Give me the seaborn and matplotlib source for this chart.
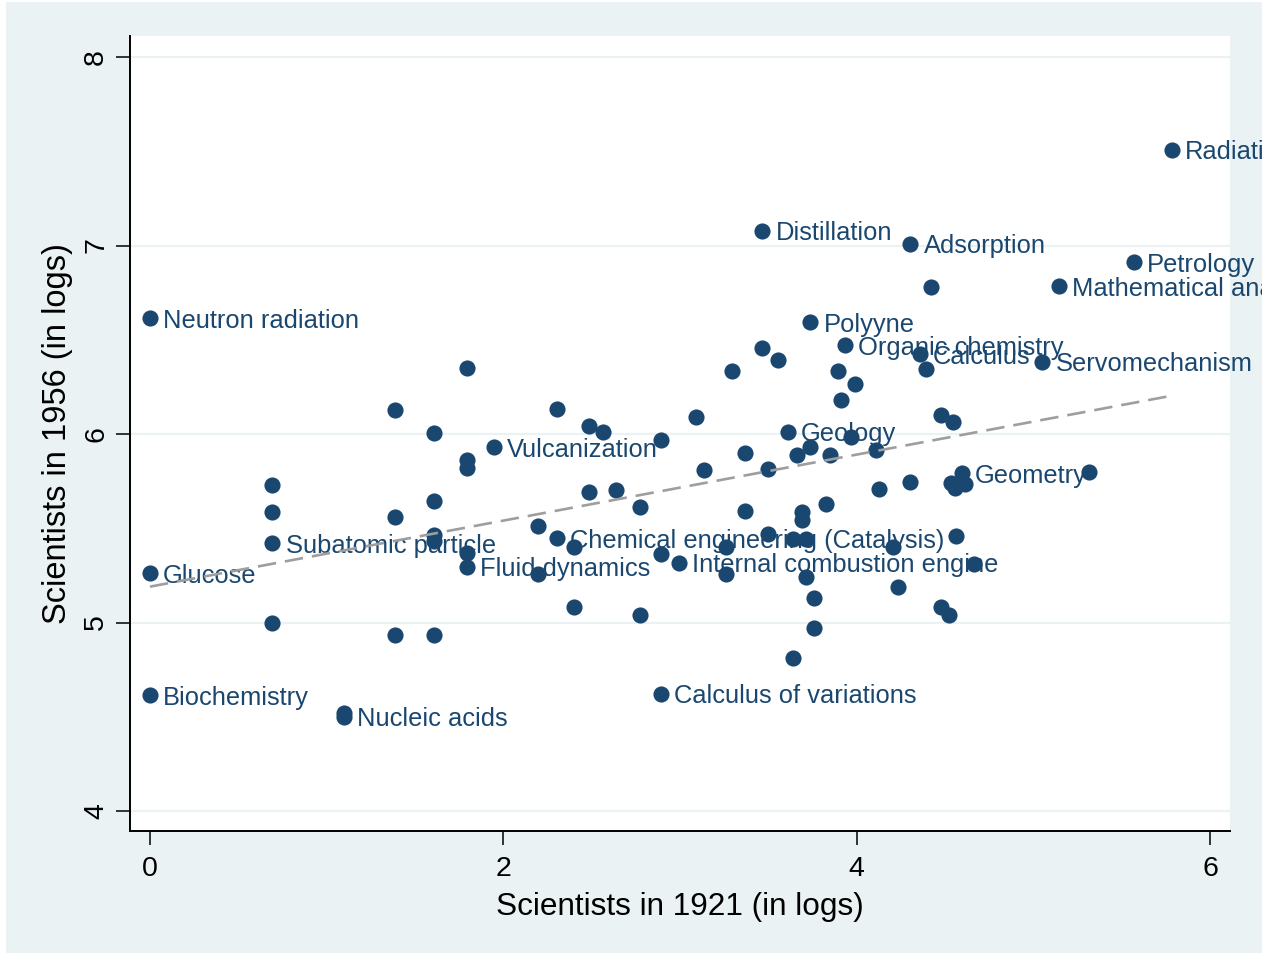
import numpy as np
import pandas as pd
import matplotlib
matplotlib.use("Agg")
import matplotlib.pyplot as plt
from matplotlib.patches import Rectangle
import seaborn as sns

# Scientists per field, 1921 vs 1956 (natural logs)
log_sci_1921 = [
    0.000, 0.000, 0.000, 0.693, 0.693, 0.693, 0.693, 1.099, 1.099, 1.386,
    1.386, 1.386, 1.609, 1.609, 1.609, 1.609, 1.609, 1.792, 1.792, 1.792,
    1.792, 1.792, 1.946, 2.197, 2.197, 2.303, 2.303, 2.398, 2.398, 2.485,
    2.485, 2.565, 2.639, 2.773, 2.773, 2.890, 2.890, 2.890, 2.996, 3.091,
    3.135, 3.258, 3.258, 3.296, 3.367, 3.367, 3.466, 3.466, 3.497, 3.497,
    3.555, 3.611, 3.638, 3.638, 3.664, 3.689, 3.689, 3.714, 3.714, 3.738,
    3.738, 3.761, 3.761, 3.829, 3.850, 3.892, 3.912, 3.932, 3.970, 3.989,
    4.111, 4.127, 4.205, 4.234, 4.304, 4.304, 4.357, 4.394, 4.419, 4.477,
    4.477, 4.522, 4.533, 4.554, 4.543, 4.564, 4.595, 4.615, 4.663, 5.050,
    5.147, 5.313, 5.568, 5.784,
]
log_sci_1956 = [
    6.615, 5.261, 4.615, 5.729, 5.588, 5.420, 4.996, 4.520, 4.499, 6.127,
    5.558, 4.934, 6.007, 5.645, 5.465, 5.435, 4.934, 6.349, 5.862, 5.818,
    5.367, 5.296, 5.931, 5.512, 5.256, 6.131, 5.447, 5.399, 5.084, 6.044,
    5.694, 6.009, 5.703, 5.614, 5.040, 5.968, 5.363, 4.621, 5.317, 6.090,
    5.809, 5.402, 5.256, 6.334, 5.898, 5.592, 7.077, 6.455, 5.813, 5.468,
    6.391, 6.012, 5.441, 4.810, 5.889, 5.588, 5.544, 5.441, 5.243, 6.594,
    5.933, 5.128, 4.969, 5.627, 5.889, 6.334, 6.179, 6.472, 5.982, 6.267,
    5.915, 5.707, 5.399, 5.190, 7.008, 5.747, 6.424, 6.345, 6.778, 6.101,
    5.081, 5.040, 5.740, 5.714, 6.065, 5.459, 5.793, 5.735, 5.309, 6.384,
    6.785, 5.798, 6.912, 7.507,
]
field_labels = [
    "Neutron radiation", "Glucose", "Biochemistry", "", "", "Subatomic particle", "", "", "Nucleic acids", "",
    "", "", "", "", "", "", "", "", "", "",
    "", "Fluid dynamics", "Vulcanization", "", "", "", "Chemical engineering (Catalysis)", "", "", "",
    "", "", "", "", "", "", "", "Calculus of variations", "Internal combustion engine", "",
    "", "", "", "", "", "", "Distillation", "", "", "",
    "", "Geology", "", "", "", "", "", "", "", "Polyyne",
    "", "", "", "", "", "", "", "Organic chemistry", "", "",
    "", "", "", "", "Adsorption", "", "Calculus", "", "", "",
    "", "", "", "", "", "", "Geometry", "", "", "Servomechanism",
    "Mathematical analysis", "", "Petrology", "Radiation",
]

x_ticks = [0, 2, 4, 6]
y_ticks = [4, 5, 6, 7, 8]
x_title = "Scientists in 1921 (in logs)"
y_title = "Scientists in 1956 (in logs)"

df = pd.DataFrame({"x": log_sci_1921, "y": log_sci_1956, "label": field_labels})

NAVY = "#1a476f"
BG = "#eaf2f3"

sns.set_theme(style="white")
plt.rcParams["font.family"] = ["Liberation Sans", "DejaVu Sans"]

fig = plt.figure(figsize=(12.7, 9.59), dpi=100, facecolor="white")
graph_region = Rectangle((6 / 1270, 6 / 959), 1256 / 1270, 951 / 959,
                         transform=fig.transFigure, facecolor=BG,
                         edgecolor="none", zorder=-10)
fig.patches.append(graph_region)
ax = fig.add_axes([130 / 1270, 1 - 831 / 959, 1100 / 1270, 795 / 959])
ax.set_facecolor("white")

# horizontal grid
for yv in y_ticks:
    ax.axhline(yv, color=BG, lw=1.6, zorder=0)

sns.scatterplot(data=df, x="x", y="y", ax=ax, s=135, color=NAVY,
                linewidth=0, zorder=3, legend=False)

# marker labels run past the plot area and are cut at the graph region
for _, r in df[df["label"] != ""].iterrows():
    t = ax.annotate(r["label"], (r["x"], r["y"]), xytext=(9.5, -1.8),
                    textcoords="offset points", ha="left", va="center",
                    fontsize=18.4, color=NAVY, zorder=4,
                    annotation_clip=False)
    t.set_clip_path(graph_region)
    t.set_clip_on(True)

sns.regplot(data=df, x="x", y="y", ax=ax, scatter=False, ci=None,
            truncate=True,
            line_kws=dict(color="#9e9e9e", lw=1.9, ls=(0, (7.0, 3.4)),
                          zorder=5))

ax.set_xlim(-20 / 176.67, 6 + 20 / 176.67)
ax.set_ylim(4 - 20 / 188.5, 8 + 21 / 188.5)
ax.set_xticks(x_ticks)
ax.set_yticks(y_ticks)
ax.set_xticklabels([str(t) for t in x_ticks])
ax.set_yticklabels([str(t) for t in y_ticks], rotation=90, va="center")

for side in ["top", "right"]:
    ax.spines[side].set_visible(False)
for side in ["left", "bottom"]:
    ax.spines[side].set_color("black")
    ax.spines[side].set_linewidth(1.4)

ax.tick_params(axis="x", which="major", pad=8)
ax.tick_params(axis="y", which="major", pad=5)
ax.tick_params(axis="both", which="major", direction="out", length=10,
               width=1.1, color="black", labelsize=20.5, labelcolor="black",
               left=True, bottom=True)

ax.set_xlabel(x_title, fontsize=22.7, color="black", labelpad=7)
ax.set_ylabel(y_title, fontsize=23.5, color="black", labelpad=7)
ax.grid(False)

fig.savefig("out.png", dpi=100, facecolor="white")
